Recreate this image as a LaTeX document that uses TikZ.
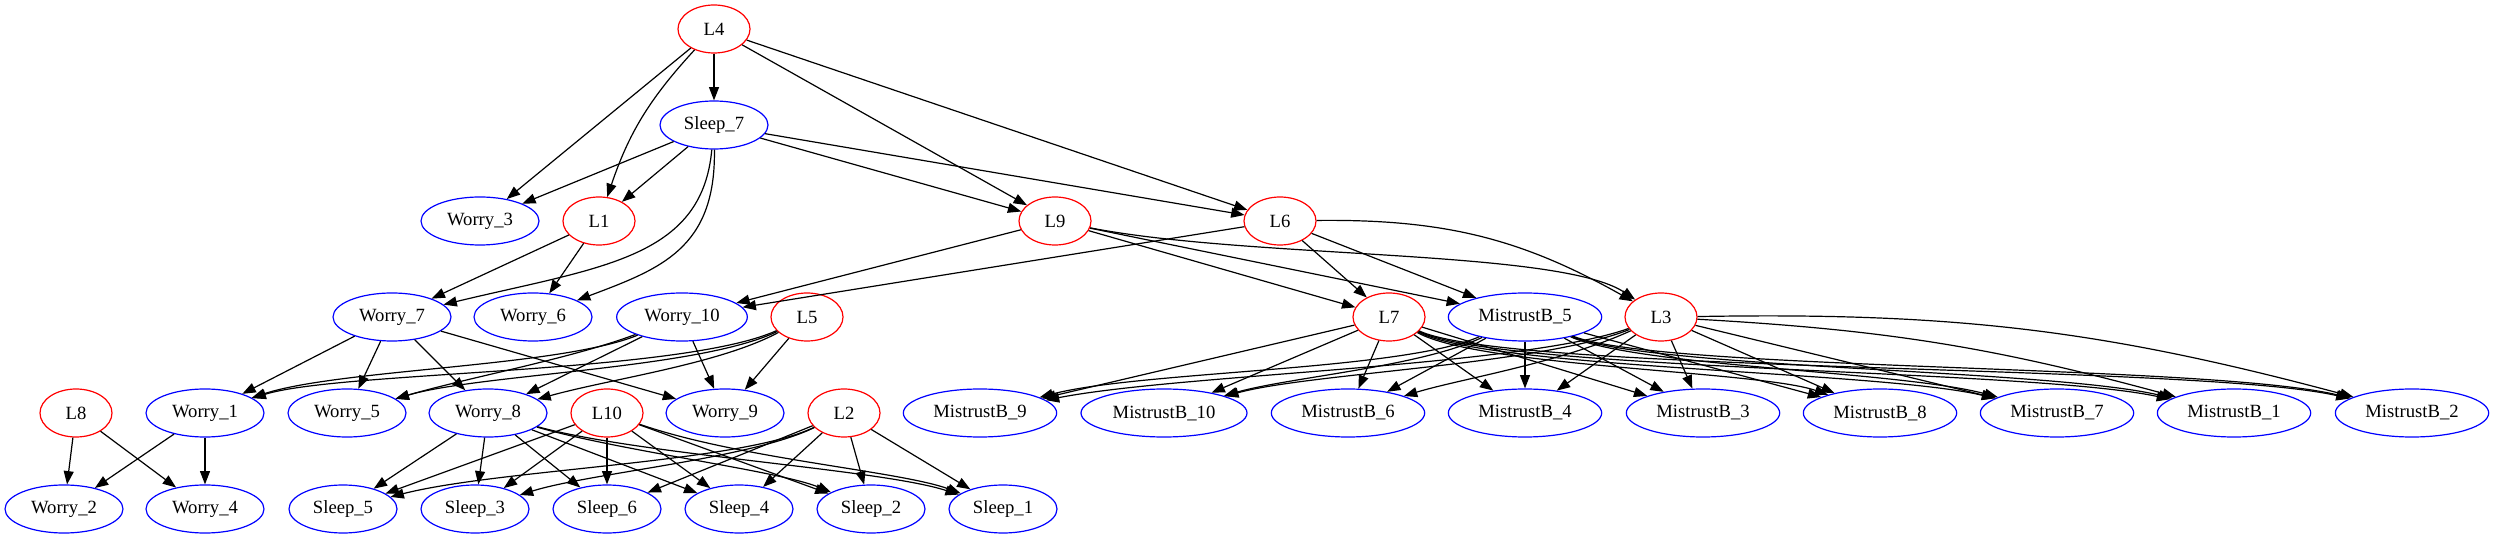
\documentclass[tikz,border=0pt]{standalone}
\usepackage{fontspec}
\setmainfont{Liberation Serif}
\usetikzlibrary{shapes.geometric,arrows.meta}
\begin{document}
\begin{tikzpicture}[x=0.75pt,y=0.75pt,
  base/.style={ellipse, draw, line width=0.9pt, inner sep=0pt, minimum height=36pt, font=\fontsize{14}{16}\selectfont},
  lat/.style={base, draw=red, minimum width=54pt},
  obs/.style={base, draw=blue, minimum width=#1},
  obs/.default=88.5pt,
  arr/.style={-{Triangle[length=10pt,width=7.5pt]}, line width=0.9pt}]
\useasboundingbox (0,0) rectangle (2494,539);
% rank 0,1
\node[lat] (L4) at (714,510) {L4};
\node[obs=81pt] (S7) at (714,414) {Sleep\_7};
% rank 2
\node[obs] (W3) at (480,318) {Worry\_3};
\node[lat] (L1) at (599,318) {L1};
\node[lat] (L9) at (1055,318) {L9};
\node[lat] (L6) at (1280,318) {L6};
% rank 3
\node[obs] (W7) at (392,222) {Worry\_7};
\node[obs] (W6) at (533,222) {Worry\_6};
\node[obs=98pt] (W10) at (682,222) {Worry\_10};
\node[lat] (L5) at (807,222) {L5};
\node[lat] (L7) at (1389,222) {L7};
\node[obs=115pt] (M5) at (1525,222) {MistrustB\_5};
\node[lat] (L3) at (1661,222) {L3};
% rank 4
\node[lat] (L8) at (76,126) {L8};
\node[obs] (W1) at (205,126) {Worry\_1};
\node[obs] (W5) at (347,126) {Worry\_5};
\node[obs] (W8) at (488,126) {Worry\_8};
\node[lat] (L10) at (607,126) {L10};
\node[obs] (W9) at (725,126) {Worry\_9};
\node[lat] (L2) at (844,126) {L2};
\node[obs=115pt] (M9) at (980,126) {MistrustB\_9};
\node[obs=124.5pt] (M10) at (1164,126) {MistrustB\_10};
\node[obs=115pt] (M6) at (1348,126) {MistrustB\_6};
\node[obs=115pt] (M4) at (1525,126) {MistrustB\_4};
\node[obs=115pt] (M3) at (1703,126) {MistrustB\_3};
\node[obs=115pt] (M8) at (1880,126) {MistrustB\_8};
\node[obs=115pt] (M7) at (2057,126) {MistrustB\_7};
\node[obs=115pt] (M1) at (2234,126) {MistrustB\_1};
\node[obs=115pt] (M2) at (2412,126) {MistrustB\_2};
% rank 5
\node[obs] (W2) at (64,30) {Worry\_2};
\node[obs] (W4) at (205,30) {Worry\_4};
\node[obs=81pt] (S5) at (343,30) {Sleep\_5};
\node[obs=81pt] (S3) at (475,30) {Sleep\_3};
\node[obs=81pt] (S6) at (607,30) {Sleep\_6};
\node[obs=81pt] (S4) at (739,30) {Sleep\_4};
\node[obs=81pt] (S2) at (871,30) {Sleep\_2};
\node[obs=81pt] (S1) at (1003,30) {Sleep\_1};

% L4
\draw[arr] (L4) -- (S7);
\draw[arr] (L4) -- (W3);
\draw[arr] (L4) to[bend right=12] (L1);
\draw[arr] (L4) -- (L9);
\draw[arr] (L4) -- (L6);
% Sleep_7
\draw[arr] (S7) -- (W3);
\draw[arr] (S7) -- (L1);
\draw[arr] (S7) -- (L9);
\draw[arr] (S7) -- (L6);
\draw[arr] (S7) .. controls (702,280) and (600,272) .. (W7);
\draw[arr] (S7) .. controls (716,290) and (660,270) .. (W6);
% L1
\draw[arr] (L1) -- (W7);
\draw[arr] (L1) -- (W6);
% L9
\draw[arr] (L9) -- (W10);
\draw[arr] (L9) -- (L7);
\draw[arr] (L9) -- (M5);
\draw[arr] (L9) .. controls (1250,280) and (1560,290) .. (L3);
% L6
\draw[arr] (L6) -- (W10);
\draw[arr] (L6) -- (L7);
\draw[arr] (L6) -- (M5);
\draw[arr] (L6) to[bend left=15] (L3);
% Worry_7
\draw[arr] (W7) -- (W1);
\draw[arr] (W7) -- (W5);
\draw[arr] (W7) -- (W8);
\draw[arr] (W7) -- (W9);
% Worry_10
\draw[arr] (W10) .. controls (560,172) and (340,170) .. (W1);
\draw[arr] (W10) .. controls (570,180) and (470,162) .. (W5);
\draw[arr] (W10) -- (W8);
\draw[arr] (W10) -- (W9);
% L5
\draw[arr] (L5) .. controls (680,165) and (340,168) .. (W1);
\draw[arr] (L5) .. controls (700,170) and (480,165) .. (W5);
\draw[arr] (L5) .. controls (720,175) and (610,160) .. (W8);
\draw[arr] (L5) -- (W9);
% L8, Worry_1
\draw[arr] (L8) -- (W2);
\draw[arr] (L8) -- (W4);
\draw[arr] (W1) -- (W2);
\draw[arr] (W1) -- (W4);
% Worry_8
\draw[arr] (W8) -- (S5);
\draw[arr] (W8) -- (S3);
\draw[arr] (W8) -- (S6);
\draw[arr] (W8) -- (S4);
\draw[arr] (W8) .. controls (620,88) and (780,68) .. (S2);
\draw[arr] (W8) .. controls (640,84) and (880,70) .. (S1);
% L10
\draw[arr] (L10) -- (S5);
\draw[arr] (L10) -- (S3);
\draw[arr] (L10) -- (S6);
\draw[arr] (L10) -- (S4);
\draw[arr] (L10) -- (S2);
\draw[arr] (L10) .. controls (740,80) and (900,68) .. (S1);
% L2
\draw[arr] (L2) .. controls (740,76) and (500,70) .. (S5);
\draw[arr] (L2) .. controls (750,80) and (590,66) .. (S3);
\draw[arr] (L2) -- (S6);
\draw[arr] (L2) -- (S4);
\draw[arr] (L2) -- (S2);
\draw[arr] (L2) -- (S1);
% L7
\draw[arr] (L7) -- (M9);
\draw[arr] (L7) -- (M10);
\draw[arr] (L7) -- (M6);
\draw[arr] (L7) -- (M4);
\draw[arr] (L7) -- (M3);
\draw[arr] (L7) .. controls (1480,172) and (1760,168) .. (M8);
\draw[arr] (L7) .. controls (1490,170) and (1880,168) .. (M7);
\draw[arr] (L7) .. controls (1500,168) and (2030,170) .. (M1);
\draw[arr] (L7) .. controls (1510,166) and (2200,175) .. (M2);
% MistrustB_5
\draw[arr] (M5) .. controls (1400,168) and (1140,168) .. (M9);
\draw[arr] (M5) .. controls (1420,172) and (1290,162) .. (M10);
\draw[arr] (M5) -- (M6);
\draw[arr] (M5) -- (M4);
\draw[arr] (M5) -- (M3);
\draw[arr] (M5) -- (M8);
\draw[arr] (M5) .. controls (1640,172) and (1900,168) .. (M7);
\draw[arr] (M5) .. controls (1650,170) and (2050,170) .. (M1);
\draw[arr] (M5) .. controls (1660,168) and (2210,175) .. (M2);
% L3
\draw[arr] (L3) .. controls (1520,172) and (1180,165) .. (M9);
\draw[arr] (L3) .. controls (1540,174) and (1310,166) .. (M10);
\draw[arr] (L3) .. controls (1560,176) and (1460,160) .. (M6);
\draw[arr] (L3) -- (M4);
\draw[arr] (L3) -- (M3);
\draw[arr] (L3) -- (M8);
\draw[arr] (L3) -- (M7);
\draw[arr] (L3) to[bend left=6] (M1);
\draw[arr] (L3) to[bend left=8] (M2);
\end{tikzpicture}
\end{document}
